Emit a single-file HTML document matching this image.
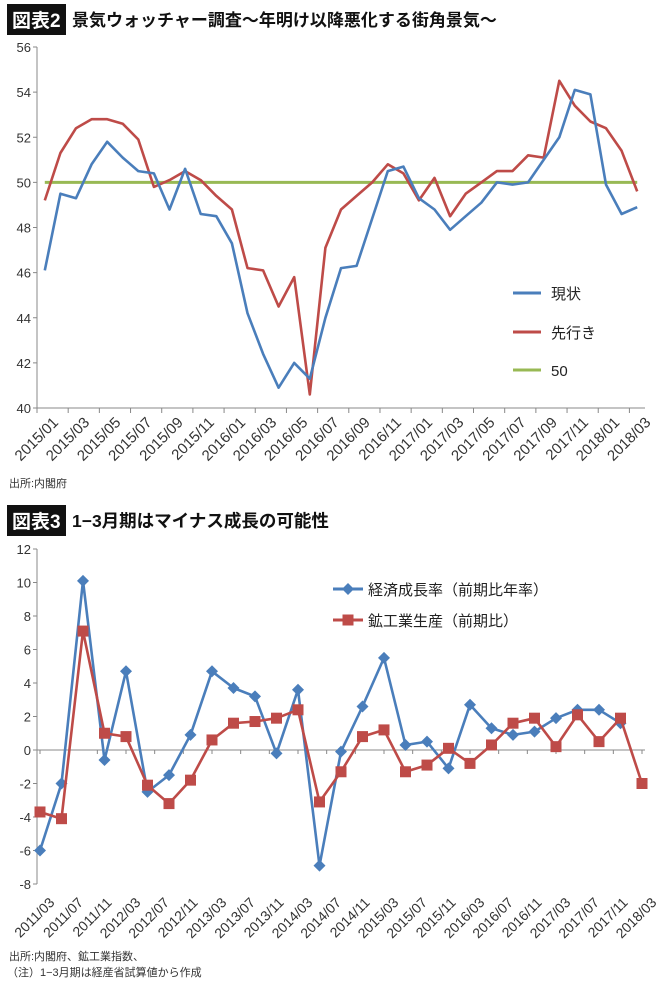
<!DOCTYPE html>
<html><head><meta charset="utf-8">
<style>
body{margin:0;background:#fff;width:658px;height:982px;overflow:hidden;font-family:"Liberation Sans","Noto Sans CJK JP",sans-serif;}
svg{display:block}
</style></head>
<body>
<svg id="root" width="658" height="982" xmlns="http://www.w3.org/2000/svg">
  <g>
    <rect x="7" y="4" width="59" height="31" fill="#111"/>
    <text x="12" y="27" font-size="19" font-weight="bold" fill="#fff" font-family="Liberation Sans,Noto Sans CJK JP,sans-serif">図表2</text>
    <text x="72" y="26" font-size="17" font-weight="bold" fill="#111" font-family="Liberation Sans,Noto Sans CJK JP,sans-serif">景気ウォッチャー調査〜年明け以降悪化する街角景気〜</text>
  </g>
  <g id="c1"></g>
  <text x="9" y="487" font-size="11" fill="#333" font-family="Liberation Sans,Noto Sans CJK JP,sans-serif">出所:内閣府</text>

  <g>
    <rect x="7" y="505" width="59" height="31" fill="#111"/>
    <text x="12" y="528" font-size="19" font-weight="bold" fill="#fff" font-family="Liberation Sans,Noto Sans CJK JP,sans-serif">図表3</text>
    <text x="72" y="527" font-size="17.5" font-weight="bold" fill="#111" font-family="Liberation Sans,Noto Sans CJK JP,sans-serif">1−3月期はマイナス成長の可能性</text>
  </g>
  <g id="c2"></g>
  <text x="9" y="960" font-size="11" fill="#333" font-family="Liberation Sans,Noto Sans CJK JP,sans-serif">出所:内閣府、鉱工業指数、</text>
  <text x="7" y="976" font-size="11" fill="#333" font-family="Liberation Sans,Noto Sans CJK JP,sans-serif">（注）1−3月期は経産省試算値から作成</text>
</svg>
<script>
const NS="http://www.w3.org/2000/svg";
// ---- chart 2 data ----
const months1=["2015/01","2015/02","2015/03","2015/04","2015/05","2015/06","2015/07","2015/08","2015/09","2015/10","2015/11","2015/12","2016/01","2016/02","2016/03","2016/04","2016/05","2016/06","2016/07","2016/08","2016/09","2016/10","2016/11","2016/12","2017/01","2017/02","2017/03","2017/04","2017/05","2017/06","2017/07","2017/08","2017/09","2017/10","2017/11","2017/12","2018/01","2018/02","2018/03"];
const current1=[46.1,49.5,49.3,50.8,51.8,51.1,50.5,50.4,48.8,50.6,48.6,48.5,47.3,44.2,42.4,40.9,42.0,41.3,44.0,46.2,46.3,48.4,50.5,50.7,49.3,48.8,47.9,48.5,49.1,50.0,49.9,50.0,51.0,52.0,54.1,53.9,49.9,48.6,48.9];
const outlook1=[49.2,51.3,52.4,52.8,52.8,52.6,51.9,49.8,50.1,50.5,50.1,49.4,48.8,46.2,46.1,44.5,45.8,40.6,47.1,48.8,49.4,50.0,50.8,50.4,49.2,50.2,48.5,49.5,50.0,50.5,50.5,51.2,51.1,54.5,53.4,52.7,52.4,51.4,49.6];
const ref1=[50];
const yTicks1=[40,42,44,46,48,50,52,54,56];
// ---- chart 3 data ----
const quarters2=["2011/03","2011/06","2011/09","2011/12","2012/03","2012/06","2012/09","2012/12","2013/03","2013/06","2013/09","2013/12","2014/03","2014/06","2014/09","2014/12","2015/03","2015/06","2015/09","2015/12","2016/03","2016/06","2016/09","2016/12","2017/03","2017/06","2017/09","2017/12","2018/03"];
const gdp2=[-6.0,-2.0,10.1,-0.6,4.7,-2.5,-1.5,0.9,4.7,3.7,3.2,-0.2,3.6,-6.9,-0.1,2.6,5.5,0.3,0.5,-1.1,2.7,1.3,0.9,1.1,1.9,2.4,2.4,1.6];
const ind2=[-3.7,-4.1,7.1,1.0,0.8,-2.1,-3.2,-1.8,0.6,1.6,1.7,1.9,2.4,-3.1,-1.3,0.8,1.2,-1.3,-0.9,0.1,-0.8,0.3,1.6,1.9,0.2,2.1,0.5,1.9,-2.0];
const xLabels2=["2011/03","2011/07","2011/11","2012/03","2012/07","2012/11","2013/03","2013/07","2013/11","2014/03","2014/07","2014/11","2015/03","2015/07","2015/11","2016/03","2016/07","2016/11","2017/03","2017/07","2017/11","2018/03"];
const yTicks2=[-8,-6,-4,-2,0,2,4,6,8,10,12];

function mk(tag,attrs,parent){const e=document.createElementNS(NS,tag);for(const k in attrs)e.setAttribute(k,attrs[k]);parent.appendChild(e);return e;}
const FONT="Liberation Sans,Noto Sans CJK JP,sans-serif";

// ---- chart 2 ----
(function(){
  const g=document.getElementById('c1');
  const L=37,R=645,T=47,B=408,ymin=40,ymax=56;
  const n=months1.length,cw=(R-L)/n;
  const X=i=>L+cw*(i+0.5);
  const Y=v=>B-(v-ymin)/(ymax-ymin)*(B-T);
  let e=mk('line',{x1:L,y1:T,x2:L,y2:B,stroke:'#888','stroke-width':1},g);
  
  
  e=mk('line',{x1:L,y1:B,x2:R,y2:B,stroke:'#888','stroke-width':1},g);
  
  
  yTicks1.forEach(v=>{
    const t=mk('line',{x1:L-4,y1:Y(v),x2:L,y2:Y(v),stroke:'#888'},g);
    
    
    const tx=mk('text',{x:L-6,y:Y(v)+5,'text-anchor':'end','font-size':13,fill:'#333','font-family':FONT},g);
    tx.textContent=v;
    
    
  });
  for(let i=0;i<=n;i+=2){
    const x=L+cw*i;
    const t=mk('line',{x1:x,y1:B,x2:x,y2:B+5,stroke:'#888'},g);
    
    
  }
  months1.forEach((m,i)=>{
    if(i%2)return;
    const x=X(i)+7,y=B+8;
    const tx=mk('text',{x:x,y:y,'text-anchor':'end','font-size':15,fill:'#333','font-family':FONT,transform:`rotate(-45 ${x} ${y})`,'dominant-baseline':'hanging'},g);
    tx.textContent=m;
    
    
  });
  e=mk('line',{x1:X(0),y1:Y(ref1[0]),x2:X(n-1),y2:Y(ref1[0]),stroke:'#98b954','stroke-width':3},g);
  
  
  const path=arr=>arr.map((v,i)=>(i?'L':'M')+X(i).toFixed(1)+' '+Y(v).toFixed(1)).join(' ');
  e=mk('path',{d:path(outlook1),fill:'none',stroke:'#be4b48','stroke-width':2.6,'stroke-linejoin':'round'},g);
  
  
  e=mk('path',{d:path(current1),fill:'none',stroke:'#4a7ebb','stroke-width':2.6,'stroke-linejoin':'round'},g);
  
  
  const leg=[['現状','#4a7ebb',293],['先行き','#be4b48',332],['50','#98b954',370]];
  leg.forEach(l=>{
    const gg=mk('g',{},g);
    
    
    mk('line',{x1:513,y1:l[2],x2:541,y2:l[2],stroke:l[1],'stroke-width':3},gg);
    const tx=mk('text',{x:551,y:l[2]+6,'font-size':15,fill:'#222','font-family':FONT},gg);
    tx.textContent=l[0];
  });
})();

// ---- chart 3 ----
(function(){
  const g=document.getElementById('c2');
  const L=37,R=645,T=549,B=884,ymin=-8,ymax=12;
  const x0=40,x1=642,totalM=84;
  const monthIdx=s=>{const [y,m]=s.split('/').map(Number);return (y-2011)*12+(m-3);};
  const XM=mm=>x0+(x1-x0)*mm/totalM;
  const X=i=>XM(monthIdx(quarters2[i]));
  const Y=v=>B-(v-ymin)/(ymax-ymin)*(B-T);
  let e=mk('line',{x1:L,y1:T,x2:L,y2:B,stroke:'#888'},g);
  
  
  e=mk('line',{x1:L,y1:Y(0),x2:R,y2:Y(0),stroke:'#888'},g);
  
  
  yTicks2.forEach(v=>{
    const t=mk('line',{x1:L-4,y1:Y(v),x2:L,y2:Y(v),stroke:'#888'},g);
    
    
    const tx=mk('text',{x:L-6,y:Y(v)+5,'text-anchor':'end','font-size':13,fill:'#333','font-family':FONT},g);
    tx.textContent=v;
    
    
  });
  xLabels2.forEach(m=>{
    const x=XM(monthIdx(m));
    const t=mk('line',{x1:x,y1:Y(0),x2:x,y2:Y(0)+4,stroke:'#888'},g);
    
    
    const lx=x+8,ly=B+12;
    const tx=mk('text',{x:lx,y:ly,'text-anchor':'end','font-size':14,fill:'#333','font-family':FONT,transform:`rotate(-45 ${lx} ${ly})`,'dominant-baseline':'hanging'},g);
    tx.textContent=m;
    
    
  });
  const path=arr=>arr.map((v,i)=>(i?'L':'M')+X(i).toFixed(1)+' '+Y(v).toFixed(1)).join(' ');
  e=mk('path',{d:path(gdp2),fill:'none',stroke:'#4a7ebb','stroke-width':2.6,'stroke-linejoin':'round'},g);
  
  
  gdp2.forEach((v,i)=>{
    const x=X(i),y=Y(v);
    const p=mk('polygon',{points:`${x},${y-6} ${x+6},${y} ${x},${y+6} ${x-6},${y}`,fill:'#4a7ebb'},g);
    
    
  });
  e=mk('path',{d:path(ind2),fill:'none',stroke:'#be4b48','stroke-width':2.6,'stroke-linejoin':'round'},g);
  
  
  ind2.forEach((v,i)=>{
    const x=X(i),y=Y(v);
    const p=mk('rect',{x:x-5.5,y:y-5.5,width:11,height:11,fill:'#be4b48'},g);
    
    
  });
  const l1=mk('g',{},g);
  
  
  mk('line',{x1:333,y1:589,x2:363,y2:589,stroke:'#4a7ebb','stroke-width':3},l1);
  mk('polygon',{points:'348,583 354,589 348,595 342,589',fill:'#4a7ebb'},l1);
  let tx=mk('text',{x:368,y:595,'font-size':15,fill:'#222','font-family':FONT},l1);
  tx.textContent='経済成長率（前期比年率）';
  const l2=mk('g',{},g);
  
  
  mk('line',{x1:333,y1:620,x2:363,y2:620,stroke:'#be4b48','stroke-width':3},l2);
  mk('rect',{x:342.5,y:614.5,width:11,height:11,fill:'#be4b48'},l2);
  tx=mk('text',{x:368,y:626,'font-size':15,fill:'#222','font-family':FONT},l2);
  tx.textContent='鉱工業生産（前期比）';
})();
</script>
</body></html>
